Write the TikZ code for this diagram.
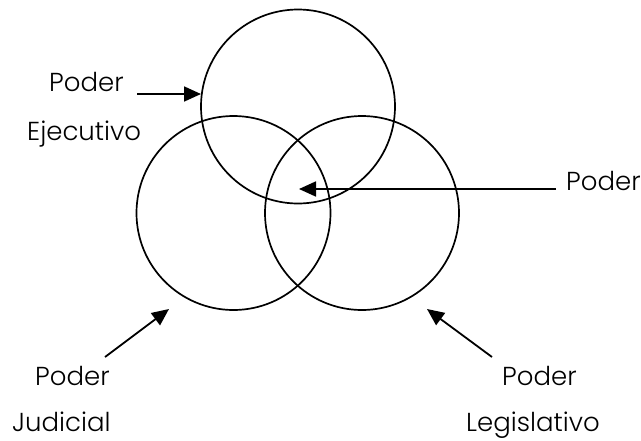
\documentclass[tikz,border=0pt]{standalone}
\usepackage{fontspec}
\setmainfont{Poppins Light}
\usetikzlibrary{arrows.meta}
\begin{document}
\begin{tikzpicture}[x=1pt,y=-1pt,
  ring/.style={draw, circle, line width=1.7pt, minimum size=194pt, inner sep=0pt},
  lbl/.style={anchor=base west, inner sep=0pt, font=\fontsize{26}{30}\selectfont, text=black},
  pointer/.style={line width=1.8pt, -{Triangle[length=17pt,width=15pt]}}]
  \clip (0,0) rectangle (641,440);
  \fill[white] (0,0) rectangle (641,440);
  % circles
  \node[ring] (ej) at (298,106.5) {};
  \node[ring] (ju) at (233.5,213) {};
  \node[ring] (le) at (362,213) {};
  % labels
  \node[lbl] (p1) at (49,91) {Poder};
  \node[lbl] (e1) at (27,140) {Ejecutivo};
  \node[lbl] (p2) at (566,190) {Poder};
  \node[lbl] (p3) at (35,385) {Poder};
  \node[lbl] (j1) at (12,431) {Judicial};
  \node[lbl] (p4) at (502,385) {Poder};
  \node[lbl] (l1) at (466,431) {Legislativo};
  % arrow ends
  \coordinate (a1s) at (137,94);  \coordinate (a1e) at (201,94);
  \coordinate (a2s) at (556,189); \coordinate (a2e) at (299,189);
  \coordinate (a3s) at (105,357); \coordinate (a3e) at (169,309);
  \coordinate (a4s) at (492,357); \coordinate (a4e) at (427,309);
  \draw[pointer] (a1s) -- (a1e);
  \draw[pointer] (a2s) -- (a2e);
  \draw[pointer] (a3s) -- (a3e);
  \draw[pointer] (a4s) -- (a4e);
\end{tikzpicture}
\end{document}
